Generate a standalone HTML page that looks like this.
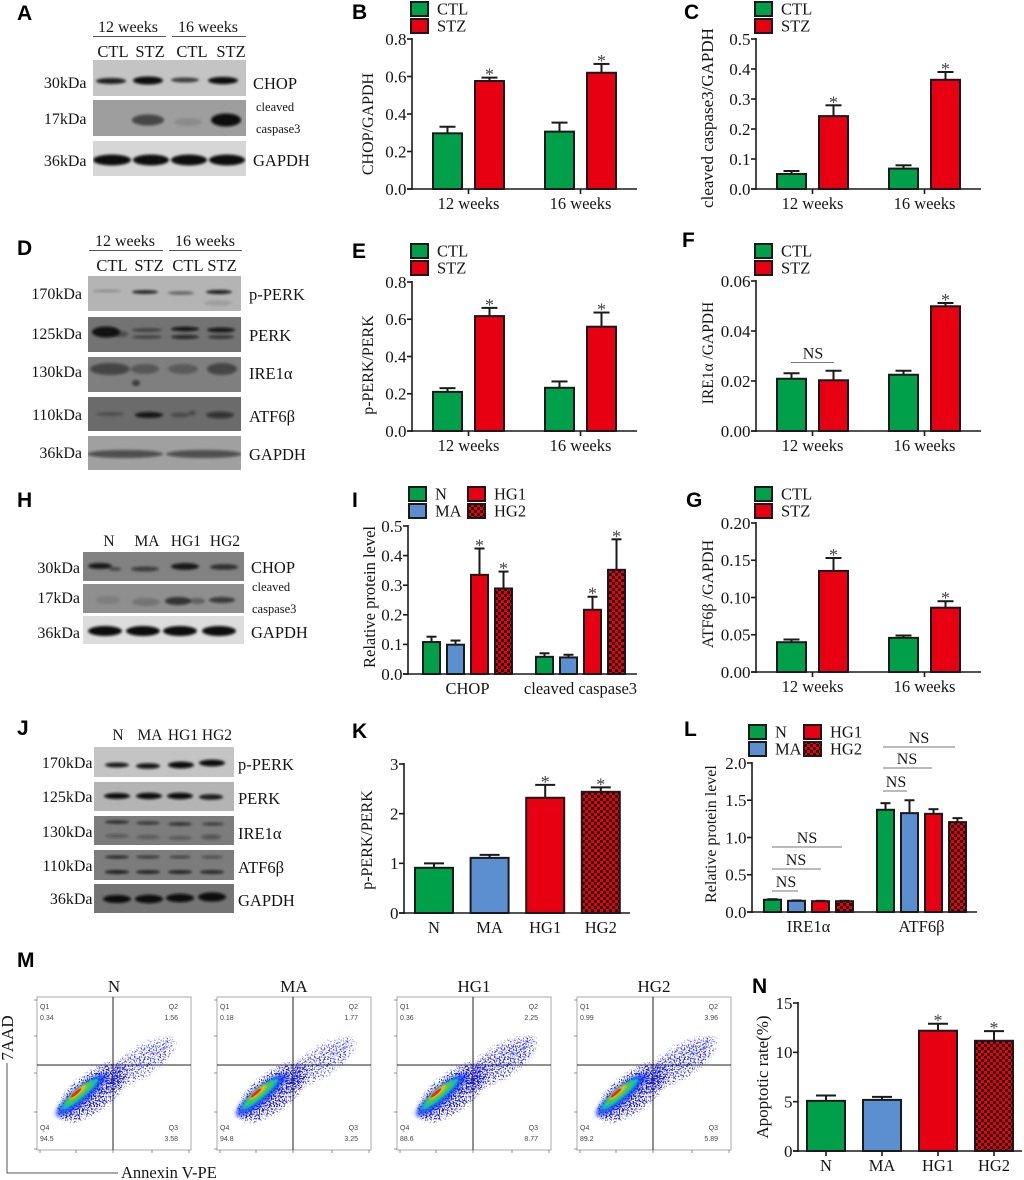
<!DOCTYPE html>
<html lang="en">
<head>
<meta charset="utf-8">
<title>Western blots, protein quantification and apoptosis flow cytometry</title>
<style>
html,body{margin:0;padding:0;background:#fff;}
svg{display:block;}
text{font-family:"Liberation Serif","DejaVu Serif",serif;fill:#151515;}
.letter{font-family:"Liberation Sans","DejaVu Sans",sans-serif;font-weight:bold;font-size:21px;fill:#000;}
.q{font-family:"Liberation Sans","DejaVu Sans",sans-serif;font-size:7px;fill:#444;}
</style>
</head>
<body>
<svg id="fig" xmlns="http://www.w3.org/2000/svg" width="1024" height="1180" viewBox="0 0 1024 1180">
<defs>
<pattern id="checker" patternUnits="userSpaceOnUse" width="6" height="6">
<rect width="6" height="6" fill="#e60012"/>
<rect width="3" height="3" fill="#2a0a0c"/>
<rect x="3" y="3" width="3" height="3" fill="#2a0a0c"/>
</pattern>
<filter id="bandBlur" x="-30%" y="-60%" width="160%" height="220%"><feGaussianBlur stdDeviation="1.2"/></filter>
<filter id="softBlur" x="-40%" y="-60%" width="180%" height="220%"><feGaussianBlur stdDeviation="2"/></filter>
<filter id="speckle" x="-30%" y="-60%" width="160%" height="220%">
<feGaussianBlur in="SourceGraphic" stdDeviation="7" result="b"/>
<feTurbulence type="fractalNoise" baseFrequency="0.7" numOctaves="2" seed="7" result="n"/>
<feColorMatrix in="n" type="matrix" values="0 0 0 0 0 0 0 0 0 0 0 0 0 0 0 5 0 0 0 -2" result="m"/>
<feComposite in="b" in2="m" operator="in" result="c"/>
<feComponentTransfer in="c"><feFuncA type="linear" slope="5" intercept="-2"/></feComponentTransfer>
</filter>
</defs>
</svg>
<script>
// ---- chart data ----
const weekCategories = ['12 weeks', '16 weeks'];
const groupNames = ['N', 'MA', 'HG1', 'HG2'];

const bTicks = ['0.0', '0.2', '0.4', '0.6', '0.8'];
const bCtl = [0.297, 0.306];
const bCtlErr = [0.035, 0.048];
const bStz = [0.576, 0.62];
const bStzErr = [0.018, 0.047];

const cTicks = ['0.0', '0.1', '0.2', '0.3', '0.4', '0.5'];
const cCtl = [0.05, 0.068];
const cCtlErr = [0.01, 0.011];
const cStz = [0.243, 0.364];
const cStzErr = [0.036, 0.026];

const eTicks = ['0.0', '0.2', '0.4', '0.6', '0.8'];
const eCtl = [0.21, 0.232];
const eCtlErr = [0.02, 0.034];
const eStz = [0.617, 0.56];
const eStzErr = [0.044, 0.076];

const fTicks = ['0.00', '0.02', '0.04', '0.06'];
const fCtl = [0.0209, 0.0225];
const fCtlErr = [0.0022, 0.0016];
const fStz = [0.0203, 0.0499];
const fStzErr = [0.0038, 0.0013];

const gTicks = ['0.00', '0.05', '0.10', '0.15', '0.20'];
const gCtl = [0.04, 0.0458];
const gCtlErr = [0.0036, 0.0032];
const gStz = [0.1357, 0.0863];
const gStzErr = [0.0173, 0.0087];

const iTicks = ['0.0', '0.1', '0.2', '0.3', '0.4', '0.5'];
const iCategories = ['CHOP', 'cleaved caspase3'];
const iN = [0.108, 0.058];
const iNErr = [0.018, 0.012];
const iMA = [0.099, 0.056];
const iMAErr = [0.014, 0.009];
const iHG1 = [0.335, 0.217];
const iHG1Err = [0.089, 0.044];
const iHG2 = [0.289, 0.352];
const iHG2Err = [0.057, 0.103];

const kTicks = ['0', '1', '2', '3'];
const kValues = [0.91, 1.11, 2.32, 2.44];
const kErr = [0.09, 0.06, 0.26, 0.09];

const lTicks = ['0.0', '0.5', '1.0', '1.5', '2.0'];
const lCategories = ['IRE1\u03b1', 'ATF6\u03b2'];
const lN = [0.165, 1.372];
const lNErr = [0.007, 0.089];
const lMA = [0.15, 1.327];
const lMAErr = [0.005, 0.173];
const lHG1 = [0.145, 1.318];
const lHG1Err = [0.005, 0.062];
const lHG2 = [0.145, 1.207];
const lHG2Err = [0.005, 0.053];

const nTicks = ['0', '5', '10', '15'];
const nValues = [5.08, 5.18, 12.19, 11.17];
const nErr = [0.54, 0.3, 0.71, 0.98];

const flowNames = ['N', 'MA', 'HG1', 'HG2'];
const flowQ1 = ['0.34', '0.18', '0.36', '0.99'];
const flowQ2 = ['1.56', '1.77', '2.25', '3.96'];
const flowQ3 = ['3.58', '3.25', '8.77', '5.89'];
const flowQ4 = ['94.5', '94.8', '88.6', '89.2'];

// ---- helpers ----
const NS = 'http://www.w3.org/2000/svg';
const fig = document.getElementById('fig');
const GREEN = '#00a04a', RED = '#e60012', BLUE = '#5b8fd0', CHECK = 'url(#checker)', INK = '#1a1a1a';

function el(parent, tag, attrs, name) {
  const n = document.createElementNS(NS, tag);
  for (const k in attrs) n.setAttribute(k, attrs[k]);
  
  
  parent.appendChild(n);
  return n;
}
function txt(parent, x, y, s, size, anchor, name, extra) {
  const t = el(parent, 'text', Object.assign({x: x, y: y, 'font-size': size, 'text-anchor': anchor || 'start'}, extra || {}), name);
  t.textContent = s;
  return t;
}
function letter(s, x, y) {
  const t = el(fig, 'text', {x: x, y: y, class: 'letter'}, 'panel-label-' + s.toLowerCase());
  t.textContent = s;
}
function legend(g, entries) {
  entries.forEach(function (e) {
    el(g, 'rect', {x: e[1], y: e[2], width: 17, height: 14, fill: e[3], stroke: INK, 'stroke-width': 2}, 'legend-swatch-' + e[0].toLowerCase());
    txt(g, e[4], e[2] + 12.5, e[0], 16.5, 'start', 'legend-entry-' + e[0].toLowerCase());
  });
}
function barChart(c) {
  const g = el(fig, 'g', {}, 'chart-' + c.name);
  const yMax = parseFloat(c.ticks[c.ticks.length - 1]);
  const yScale = function (v) { return c.y0 - v / yMax * (c.y0 - c.yTop); };
  const xScale = function (cat, s) { return c.first + cat * c.groupStep + s * c.barStep; };
  c.series.forEach(function (vals, s) {
    vals.forEach(function (v, cat) {
      const x = xScale(cat, s), cx = x + c.barW / 2, yv = yScale(v), ye = yScale(v + c.errs[s][cat]);
      const fill = c.pointFills ? c.pointFills[cat] : c.fills[s];
      el(g, 'line', {x1: cx, x2: cx, y1: yv, y2: ye, stroke: INK, 'stroke-width': 2}, 'error-bar');
      el(g, 'line', {x1: cx - c.capW, x2: cx + c.capW, y1: ye, y2: ye, stroke: INK, 'stroke-width': 2}, 'error-cap');
      el(g, 'rect', {x: x, y: yv, width: c.barW, height: c.y0 - yv, fill: fill, stroke: INK, 'stroke-width': 2}, 'bar-' + c.name + '-' + s + '-' + cat);
      if (c.stars && c.stars[s][cat]) {
        txt(g, cx, ye + 3, '*', 18, 'middle', 'significance-star', {style: 'fill:#444'});
      }
    });
  });
  el(g, 'line', {x1: c.x0, x2: c.x0, y1: c.yTop - 1, y2: c.y0 + 1, stroke: INK, 'stroke-width': 1.6}, 'y-axis');
  el(g, 'line', {x1: c.x0 - 5, x2: c.xEnd, y1: c.y0, y2: c.y0, stroke: INK, 'stroke-width': 1.6}, 'x-axis');
  c.ticks.forEach(function (t) {
    const y = yScale(parseFloat(t));
    el(g, 'line', {x1: c.x0 - 5, x2: c.x0, y1: y, y2: y, stroke: INK, 'stroke-width': 1.6}, 'y-tick');
    txt(g, c.x0 - 5.5, y + 5.8, t, 17, 'end', 'y-tick-label');
  });
  c.categories.forEach(function (name, cat) {
    const span = c.labelSpan;
    const cx = c.first + cat * c.groupStep + span / 2;
    if (c.xTicks) el(g, 'line', {x1: cx, x2: cx, y1: c.y0, y2: c.y0 + 5, stroke: INK, 'stroke-width': 1.6}, 'x-tick');
    txt(g, cx, c.y0 + 20, name, 16.5, 'middle', 'x-tick-label');
  });
  txt(g, c.ylx, c.yly, c.ylabel, c.ylSize || 16, 'middle', 'y-axis-title', {transform: 'rotate(-90 ' + c.ylx + ' ' + c.yly + ')'});
  legend(g, c.legend);
  (c.ns || []).forEach(function (n) {
    el(g, 'line', {x1: n[0], x2: n[1], y1: n[2], y2: n[2], stroke: '#777', 'stroke-width': 1}, 'ns-bracket');
    txt(g, (n[3]), n[2] - 4, 'NS', 16, 'middle', 'ns-label');
  });
}
function ctlLegend(x, y) {
  return [['CTL', x, y, GREEN, x + 26], ['STZ', x, y + 17, RED, x + 26]];
}
function fourLegend(x1, x2, y, tx1, tx2) {
  return [['N', x1, y, GREEN, tx1], ['MA', x1, y + 17, BLUE, tx1], ['HG1', x2, y, RED, tx2], ['HG2', x2, y + 17, CHECK, tx2]];
}
function blot(name, x, y, w, h, fill, bands) {
  const clipId = 'clip-' + name;
  const cp = document.createElementNS(NS, 'clipPath');
  cp.setAttribute('id', clipId);
  const cr = document.createElementNS(NS, 'rect');
  cr.setAttribute('x', x); cr.setAttribute('y', y); cr.setAttribute('width', w); cr.setAttribute('height', h);
  cp.appendChild(cr);
  fig.querySelector('defs').appendChild(cp);
  const g = el(fig, 'g', {'clip-path': 'url(#' + clipId + ')'}, 'blot-' + name);
  el(g, 'rect', {x: x, y: y, width: w, height: h, fill: fill}, 'blot-background');
  bands.forEach(function (b) {
    el(g, 'ellipse', {cx: b[0], cy: b[1], rx: b[2], ry: b[3], fill: '#0a0a0a', opacity: b[4], filter: 'url(#bandBlur)'}, 'blot-band');
  });
}

// ---- panel labels ----
letter('A', 17, 20); letter('B', 352, 19); letter('C', 684, 19);
letter('D', 17, 255); letter('E', 352, 258); letter('F', 682, 247);
letter('H', 17, 507); letter('I', 352, 507); letter('G', 686, 507);
letter('J', 17, 735); letter('K', 352, 738); letter('L', 684, 736);
letter('M', 17, 967); letter('N', 752, 993);

// ---- western blots: panel A ----
const A = el(fig, 'g', {}, 'panel-a-labels');
txt(A, 128, 32, '12 weeks', 16, 'middle', 'group-label'); txt(A, 208, 32, '16 weeks', 16, 'middle', 'group-label');
el(A, 'line', {x1: 93, x2: 166, y1: 36.5, y2: 36.5, stroke: '#555'}, 'group-line');
el(A, 'line', {x1: 172, x2: 246, y1: 36.5, y2: 36.5, stroke: '#555'}, 'group-line');
['CTL', 'STZ', 'CTL', 'STZ'].forEach(function (s, i) { txt(A, [113, 150, 192, 231][i], 57, s, 16.5, 'middle', 'lane-label'); });
blot('a-chop', 93, 60, 153, 36, '#c4c4c4', [[111, 81, 15, 3, .9], [148, 80.5, 15, 4, 1], [185, 80, 14, 2.4, .75], [223, 80.5, 15, 3.6, 1]]);
blot('a-cc3', 93, 100, 153, 36, '#9e9e9e', [[148, 120, 16, 5.5, .6], [188, 122, 14, 4, .12], [226, 120, 15, 6.5, 1]]);
blot('a-gapdh', 93, 141, 153, 35, '#d6d6d6', [[112, 160, 19, 5.4, 1], [151, 160, 18, 5.4, 1], [189, 160, 18, 5.4, 1], [227, 160, 18, 5.4, 1]]);
[['30kDa', 88], ['17kDa', 124], ['36kDa', 166]].forEach(function (r) { txt(A, 86.5, r[1], r[0], 16, 'end', 'molecular-weight-label'); });
txt(A, 253, 89, 'CHOP', 16.5, 'start', 'protein-label');
txt(A, 256, 111, 'cleaved', 12.5, 'start', 'protein-label');
txt(A, 256, 133, 'caspase3', 12.5, 'start', 'protein-label');
txt(A, 253, 166, 'GAPDH', 16.5, 'start', 'protein-label');

// ---- panel D ----
const D = el(fig, 'g', {}, 'panel-d-labels');
txt(D, 125, 246, '12 weeks', 16, 'middle', 'group-label'); txt(D, 205, 246, '16 weeks', 16, 'middle', 'group-label');
el(D, 'line', {x1: 89, x2: 163, y1: 250.5, y2: 250.5, stroke: '#555'}, 'group-line');
el(D, 'line', {x1: 169, x2: 242, y1: 250.5, y2: 250.5, stroke: '#555'}, 'group-line');
['CTL', 'STZ', 'CTL', 'STZ'].forEach(function (s, i) { txt(D, [112, 149, 188, 222][i], 271, s, 16.5, 'middle', 'lane-label'); });
blot('d-pperk', 88, 276, 153, 35, '#b4b4b4', [[107, 291, 14, 1.2, .25], [145, 292, 13, 1.8, .9], [181, 293, 13, 1.6, .5], [219, 292, 13, 2, .9], [218, 303, 14, 3, .12]]);
blot('d-perk', 88, 317, 153, 35, '#737373', [[106, 332, 14, 5.5, .95], [120, 334, 8, 3, .4], [147, 330, 15, 1.6, .55], [147, 337, 15, 1.6, .5], [185, 329, 14, 2.2, .95], [185, 337, 14, 2, .75], [221, 330, 14, 2.4, .9], [221, 337, 13, 1.8, .65]]);
blot('d-ire', 88, 357, 153, 35, '#7f7f7f', [[110, 369, 20, 6, .5], [145, 369, 14, 5, .35], [183, 369, 15, 5, .32], [222, 369, 15, 6, .5], [136, 383, 4, 3, .6]]);
blot('d-atf', 88, 397, 153, 34, '#6b6b6b', [[110, 414, 14, 1.6, .35], [149, 415, 14, 3, .9], [180, 415, 9, 2.4, .35], [192, 413, 4, 2, .4], [220, 415, 14, 3.4, .6]]);
blot('d-gapdh', 88, 436, 153, 34, '#a0a0a0', [[125, 454, 38, 4, .55], [204, 454, 38, 4, .55]]);
[['170kDa', 299], ['125kDa', 339], ['130kDa', 377], ['110kDa', 420], ['36kDa', 458]].forEach(function (r) { txt(D, 82, r[1], r[0], 16, 'end', 'molecular-weight-label'); });
[['p-PERK', 300], ['PERK', 341], ['IRE1\u03b1', 379], ['ATF6\u03b2', 422], ['GAPDH', 460]].forEach(function (r) { txt(D, 249, r[1], r[0], 16.5, 'start', 'protein-label'); });

// ---- panel H ----
const H = el(fig, 'g', {}, 'panel-h-labels');
['N', 'MA', 'HG1', 'HG2'].forEach(function (s, i) { txt(H, [109, 147, 186, 225][i], 546, s, 15.5, 'middle', 'lane-label'); });
blot('h-chop', 83, 552, 161, 29, '#828282', [[100, 566, 12, 3, .9], [115, 569, 6, 2, .5], [145, 569, 14, 2.4, .6], [185, 566.5, 14, 3.4, .9], [224, 567, 14, 2.8, .7]]);
blot('h-cc3', 83, 584, 161, 29, '#8f8f8f', [[108, 600, 12, 4, .12], [146, 602, 14, 4, .2], [178, 601, 13, 4, .7], [197, 601, 8, 3, .35], [222, 600, 13, 3, .65]]);
blot('h-gapdh', 83, 616, 161, 28, '#dddddd', [[105, 631, 17, 5, 1], [143, 631, 17, 5, 1], [180, 631, 17, 5, 1], [219, 631, 17, 5, 1]]);
[['30kDa', 573], ['17kDa', 603], ['36kDa', 638]].forEach(function (r) { txt(H, 80, r[1], r[0], 16, 'end', 'molecular-weight-label'); });
txt(H, 251, 573, 'CHOP', 16.5, 'start', 'protein-label');
txt(H, 252, 591, 'cleaved', 12.5, 'start', 'protein-label');
txt(H, 252, 613, 'caspase3', 12.5, 'start', 'protein-label');
txt(H, 251, 638, 'GAPDH', 16.5, 'start', 'protein-label');

// ---- panel J ----
const J = el(fig, 'g', {}, 'panel-j-labels');
['N', 'MA', 'HG1', 'HG2'].forEach(function (s, i) { txt(J, [118, 150, 183, 217][i], 740, s, 15.5, 'middle', 'lane-label'); });
blot('j-pperk', 94, 747, 140, 30, '#c4c4c4', [[117, 765, 12, 2.4, .95], [148, 766, 12, 2.8, .95], [181, 765, 13, 3.4, 1], [212, 763, 13, 3.4, 1]]);
blot('j-perk', 94, 782, 140, 29, '#b4b4b4', [[117, 796, 13, 3, 1], [149, 796, 13, 3.2, 1], [180, 796, 13, 3.2, 1], [211, 797, 12, 2.8, .9]]);
blot('j-ire', 94, 816, 140, 29, '#7c7c7c', [[117, 822, 12, 1.6, .75], [117, 836, 12, 2, .3], [148, 823, 12, 1.6, .65], [148, 837, 12, 2, .3], [180, 824, 12, 1.6, .7], [180, 838, 12, 2, .3], [213, 824, 11, 1.4, .6], [211, 837, 10, 2.6, .35]]);
blot('j-atf', 94, 850, 140, 30, '#7c7c7c', [[117, 857, 12, 1.6, .75], [117, 872, 12, 1.8, .9], [148, 857, 12, 1.6, .6], [148, 872, 12, 1.8, .85], [180, 857, 11, 1.4, .55], [180, 872, 12, 1.8, .85], [212, 857, 11, 1.4, .45], [212, 872, 12, 1.8, .8]]);
blot('j-gapdh', 94, 884, 140, 29, '#747474', [[117, 899, 14, 4, 1], [149, 899, 14, 4.2, 1], [180, 898, 14, 4.2, 1], [212, 897, 14, 4.6, 1]]);
[['170kDa', 768], ['125kDa', 802], ['130kDa', 837], ['110kDa', 871], ['36kDa', 904]].forEach(function (r) { txt(J, 92.5, r[1], r[0], 16, 'end', 'molecular-weight-label'); });
[['p-PERK', 770], ['PERK', 804], ['IRE1\u03b1', 839], ['ATF6\u03b2', 873], ['GAPDH', 906]].forEach(function (r) { txt(J, 238, r[1], r[0], 16.5, 'start', 'protein-label'); });

// ---- bar charts ----
const pair = {first: 433, barW: 29, barStep: 42, groupStep: 112, labelSpan: 71, capW: 8, xTicks: true, fills: [GREEN, RED]};
const pairR = Object.assign({}, pair, {first: 777});
const quad = {first: 423, barW: 17, barStep: 24, groupStep: 113, labelSpan: 89, capW: 5, fills: [GREEN, BLUE, RED, CHECK]};

barChart(Object.assign({}, pair, {name: 'b', x0: 412, xEnd: 637, y0: 189, yTop: 39, ticks: bTicks, categories: weekCategories,
  series: [bCtl, bStz], errs: [bCtlErr, bStzErr], stars: [[0, 0], [1, 1]], ylabel: 'CHOP/GAPDH', ylx: 373, yly: 124, legend: ctlLegend(411, 2)}));
barChart(Object.assign({}, pairR, {name: 'c', x0: 756, xEnd: 981, y0: 189, yTop: 39, ticks: cTicks, categories: weekCategories,
  series: [cCtl, cStz], errs: [cCtlErr, cStzErr], stars: [[0, 0], [1, 1]], ylabel: 'cleaved caspase3/GAPDH', ylx: 713, yly: 118, ylSize: 17, legend: ctlLegend(755, 2)}));
barChart(Object.assign({}, pair, {name: 'e', x0: 412, xEnd: 637, y0: 431, yTop: 282, ticks: eTicks, categories: weekCategories,
  series: [eCtl, eStz], errs: [eCtlErr, eStzErr], stars: [[0, 0], [1, 1]], ylabel: 'p-PERK/PERK', ylx: 373, yly: 365, legend: ctlLegend(411, 244)}));
barChart(Object.assign({}, pairR, {name: 'f', x0: 756, xEnd: 981, y0: 431, yTop: 281, ticks: fTicks, categories: weekCategories,
  series: [fCtl, fStz], errs: [fCtlErr, fStzErr], stars: [[0, 0], [0, 1]], ylabel: 'IRE1\u03b1 /GAPDH', ylx: 713, yly: 353, ylSize: 15.5, legend: ctlLegend(755, 244),
  ns: [[791, 834, 362.5, 813]]}));
barChart(Object.assign({}, pairR, {name: 'g', x0: 756, xEnd: 981, y0: 672, yTop: 523, ticks: gTicks, categories: weekCategories,
  series: [gCtl, gStz], errs: [gCtlErr, gStzErr], stars: [[0, 0], [1, 1]], ylabel: 'ATF6\u03b2 /GAPDH', ylx: 713, yly: 594, legend: ctlLegend(755, 487)}));
barChart(Object.assign({}, quad, {name: 'i', x0: 408, xEnd: 637, y0: 674, yTop: 526, ticks: iTicks, categories: iCategories,
  series: [iN, iMA, iHG1, iHG2], errs: [iNErr, iMAErr, iHG1Err, iHG2Err], stars: [[0, 0], [0, 0], [1, 1], [1, 1]],
  ylabel: 'Relative protein level', ylx: 375, yly: 597, ylSize: 16.5, legend: fourLegend(409, 468, 487, 435, 494)}));
barChart(Object.assign({}, quad, {name: 'l', first: 764, x0: 752, xEnd: 977, y0: 912, yTop: 763, ticks: lTicks, categories: lCategories,
  series: [lN, lMA, lHG1, lHG2], errs: [lNErr, lMAErr, lHG1Err, lHG2Err],
  ylabel: 'Relative protein level', ylx: 716, yly: 834, legend: fourLegend(749, 804, 725, 775, 830),
  ns: [[772, 798, 891, 786], [772, 821, 869, 796], [772, 842, 847, 807], [883, 907, 791, 896], [883, 932, 768, 907], [883, 955, 747, 919]]}));
barChart({name: 'k', first: 415, barW: 38, barStep: 0, groupStep: 55.6, labelSpan: 38, capW: 10, pointFills: [GREEN, BLUE, RED, CHECK],
  x0: 404, xEnd: 630, y0: 913, yTop: 764, ticks: kTicks, categories: groupNames, series: [kValues], errs: [kErr], stars: [[0, 0, 1, 1]],
  ylabel: 'p-PERK/PERK', ylx: 372, yly: 840, legend: []});
barChart({name: 'n', first: 807, barW: 38, barStep: 0, groupStep: 56, labelSpan: 38, capW: 10, xTicks: true, pointFills: [GREEN, BLUE, RED, CHECK],
  x0: 798, xEnd: 1022, y0: 1151, yTop: 1003, ticks: nTicks, categories: groupNames, series: [nValues], errs: [nErr], stars: [[0, 0, 1, 1]],
  ylabel: 'Apoptotic rate(%)', ylx: 768, yly: 1077, ylSize: 17, legend: []});

// ---- flow cytometry ----
const flowBoxX = [37, 217, 397, 577];
flowNames.forEach(function (name, i) {
  const bx = flowBoxX[i], by = 997, bw = 154, bh = 153;
  const g = el(fig, 'g', {transform: 'translate(' + bx + ' ' + by + ')'}, 'flow-plot-' + name.toLowerCase());
  txt(fig, bx + 77, 992, name, 17, 'middle', 'flow-plot-title');
  el(g, 'rect', {x: 0, y: 0, width: bw, height: bh, fill: '#fff', stroke: '#aaa', 'stroke-width': 1}, 'flow-plot-frame');
  const tail = (parseFloat(flowQ2[i]) + parseFloat(flowQ3[i])) / 14;
  el(g, 'ellipse', {cx: 102, cy: 66, rx: 50, ry: 20, fill: '#2828ff', 'fill-opacity': Math.min(.85, .6 + tail * .2), transform: 'rotate(-32 102 66)', filter: 'url(#speckle)'}, 'flow-tail-population');
  el(g, 'ellipse', {cx: 56, cy: 95, rx: 46, ry: 21, fill: '#1010f0', 'fill-opacity': .9, transform: 'rotate(-38 56 95)', filter: 'url(#speckle)'}, 'flow-main-population');
  el(g, 'ellipse', {cx: 44, cy: 98, rx: 32, ry: 8, fill: '#1030e8', opacity: .85, transform: 'rotate(-40 44 98)', filter: 'url(#softBlur)'}, 'flow-density-blue');
  el(g, 'ellipse', {cx: 43, cy: 97, rx: 24, ry: 4.8, fill: '#10c8c0', opacity: .95, transform: 'rotate(-40 43 97)', filter: 'url(#bandBlur)'}, 'flow-density-cyan');
  el(g, 'ellipse', {cx: 42, cy: 96, rx: 18, ry: 3.6, fill: '#50c840', transform: 'rotate(-40 42 96)', filter: 'url(#bandBlur)'}, 'flow-density-green');
  el(g, 'ellipse', {cx: 41, cy: 95, rx: 11, ry: 2.4, fill: '#f0c020', transform: 'rotate(-40 41 95)', filter: 'url(#bandBlur)'}, 'flow-density-yellow');
  el(g, 'ellipse', {cx: 39, cy: 96, rx: 7, ry: 1.5, fill: '#e83010', transform: 'rotate(-40 39 96)'}, 'flow-density-red');
  el(g, 'line', {x1: 76, x2: 76, y1: 0, y2: bh, stroke: '#222', 'stroke-width': 1}, 'quadrant-vertical-line');
  el(g, 'line', {x1: 0, x2: bw, y1: 68, y2: 68, stroke: '#222', 'stroke-width': 1}, 'quadrant-horizontal-line');
  [3, 39, 76, 115, 152].forEach(function (t) {
    el(g, 'line', {x1: -3, x2: 0, y1: t, y2: t, stroke: '#777', 'stroke-width': .8}, 'flow-y-tick');
  });
  [3, 39, 76, 115, 152].forEach(function (t) {
    el(g, 'line', {x1: t, x2: t, y1: bh, y2: bh + 3, stroke: '#777', 'stroke-width': .8}, 'flow-x-tick');
  });
  [['Q1', flowQ1[i], 3, 'start', 12], ['Q2', flowQ2[i], 141, 'end', 12], ['Q4', flowQ4[i], 3, 'start', 133], ['Q3', flowQ3[i], 141, 'end', 133]].forEach(function (q) {
    const a = el(g, 'text', {x: q[2], y: q[4], class: 'q', 'text-anchor': q[3]}, 'quadrant-name');
    a.textContent = q[0];
    const b = el(g, 'text', {x: q[2], y: q[4] + 11, class: 'q', 'text-anchor': q[3]}, 'quadrant-percent');
    b.textContent = q[1];
  });
});
el(fig, 'path', {d: 'M7 1063V1173H118', fill: 'none', stroke: '#555', 'stroke-width': 1}, 'flow-axis-arrow');
txt(fig, 13, 1038, '7AAD', 17, 'middle', 'flow-y-axis-title', {transform: 'rotate(-90 13 1038)'});
txt(fig, 121, 1178, 'Annexin V-PE', 16.5, 'start', 'flow-x-axis-title');
</script>
</body>
</html>
